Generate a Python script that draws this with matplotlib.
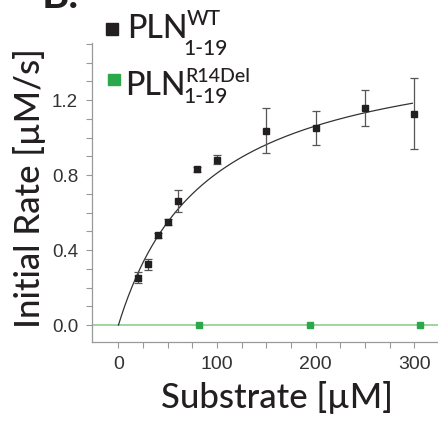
import numpy as np
import matplotlib
matplotlib.use("Agg")
import matplotlib.pyplot as plt
from matplotlib.patches import Rectangle

# WT 1-19 data
wt_x = [20, 30, 40, 50, 60, 80, 100, 150, 200, 250, 300]
wt_y = [0.252, 0.324, 0.478, 0.551, 0.661, 0.830, 0.882, 1.036, 1.051, 1.156, 1.127]
wt_err = [0.03, 0.03, 0.012, 0.015, 0.06, 0.012, 0.025, 0.12, 0.09, 0.095, 0.19]

# R14Del 1-19 data
del_x = [82, 194, 306]
del_y = [0.0, 0.0, 0.0]

# Michaelis-Menten fit for WT
vmax = 1.54
km = 90.0

W, H = 439, 424
fig = plt.figure(figsize=(W / 100, H / 100), dpi=100)

def fx(x):
    return x / W

def fy(y):
    return 1 - y / H

ax = fig.add_axes([fx(92), fy(342), fx(W - 92), (342 - 43) / H])

xs = np.linspace(0, 298, 300)
ax.plot(xs, vmax * xs / (km + xs), color="#333333", lw=0.9, zorder=2)
ax.axhline(0, color="#8fce8f", lw=1.2, zorder=1)
ax.errorbar(wt_x, wt_y, yerr=wt_err, fmt="s", color="#231f20", ecolor="#555555",
            elinewidth=0.9, capsize=3, capthick=0.9, markersize=4.5, zorder=3)
ax.plot(del_x, del_y, "s", color="#2aa84a", markersize=5, zorder=3)

ax.set_xlim(-26.8, 325)
ax.set_ylim(-0.09, 1.504)
ax.set_xticks([0, 100, 200, 300])
ax.set_xticks(np.arange(0, 326, 25), minor=True)
ax.set_yticks([0.0, 0.4, 0.8, 1.2])
ax.set_yticks(np.arange(0, 1.51, 0.1), minor=True)
ax.set_yticklabels(["0.0", "0.4", "0.8", "1.2"])

for s in ["top", "right"]:
    ax.spines[s].set_visible(False)
for s in ["left", "bottom"]:
    ax.spines[s].set_color("#999999")
    ax.spines[s].set_linewidth(0.9)

ax.tick_params(which="both", direction="out", color="#999999", width=0.8, length=4)
ax.tick_params(axis="x", pad=6, labelsize=14, labelcolor="#333333")
ax.tick_params(axis="y", pad=6, labelsize=13.5, labelcolor="#333333")
for lab in ax.get_xticklabels() + ax.get_yticklabels():
    lab.set_fontfamily("Liberation Sans")

lbl = dict(family="Lato", color="#231f20", fontweight=500)
fig.text(fx(277), fy(408), "Substrate [\u00b5M]", fontsize=25, ha="center", va="baseline", **lbl)
fig.text(fx(40), fy(188), "Initial Rate [\u00b5M/s]", fontsize=25, rotation=90,
         rotation_mode="anchor", ha="center", va="baseline", **lbl)

fig.text(fx(42), fy(8), "B.", fontsize=30, fontweight="bold", ha="left", va="baseline",
         family="Lato", color="#231f20")

# legend
fig.patches.append(Rectangle((fx(106), fy(35)), 12 / W, 12 / H, transform=fig.transFigure,
                             color="#231f20", figure=fig))
fig.patches.append(Rectangle((fx(108), fy(85)), 12 / W, 11 / H, transform=fig.transFigure,
                             color="#2aa84a", figure=fig))
fig.text(fx(127), fy(38), "PLN", fontsize=23, ha="left", va="baseline", **lbl)
fig.text(fx(187), fy(25), "WT", fontsize=15, ha="left", va="baseline", **lbl)
fig.text(fx(183), fy(55), "1-19", fontsize=15, ha="left", va="baseline", **lbl)
fig.text(fx(125), fy(95), "PLN", fontsize=23, ha="left", va="baseline", **lbl)
fig.text(fx(185), fy(82), "R14Del", fontsize=14, ha="left", va="baseline", **lbl)
fig.text(fx(183), fy(103), "1-19", fontsize=15, ha="left", va="baseline", **lbl)

fig.savefig("out.png", dpi=100)
